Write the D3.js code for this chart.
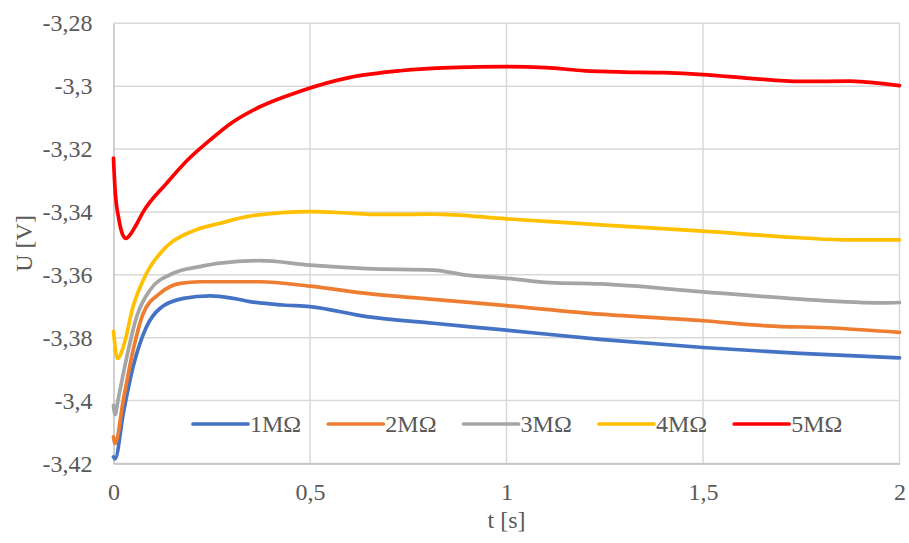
<!DOCTYPE html>
<html>
<head>
<meta charset="utf-8">
<script src="https://cdn.jsdelivr.net/npm/d3@7"></script>
<style>
  html, body { margin: 0; padding: 0; background: #fff; }
  svg { display: block; }
  svg text { font-family: "Liberation Serif", "Times New Roman", "DejaVu Serif", serif !important; }
</style>
</head>
<body>
<svg id="chart" width="909" height="543"></svg>
<script>
// ---- data ----
const seriesNames = ["1MΩ", "2MΩ", "3MΩ", "4MΩ", "5MΩ"];
const seriesColors = ["#4472C4", "#ED7D31", "#A5A5A5", "#FFC000", "#FF0000"];

const s1M = [[0,-3.4179],[0.004,-3.4185],[0.025,-3.404],[0.05,-3.3892],[0.084,-3.3765],[0.118,-3.3707],[0.178,-3.3675],[0.246,-3.3667],[0.305,-3.3675],[0.347,-3.3685],[0.432,-3.3696],[0.5,-3.3701],[0.644,-3.3733],[0.814,-3.3754],[1.0,-3.3776],[1.238,-3.3805],[1.5,-3.3831],[1.747,-3.385],[2.0,-3.3864]];
const s2M = [[0,-3.4115],[0.004,-3.4136],[0.025,-3.3998],[0.05,-3.3839],[0.076,-3.3722],[0.118,-3.3659],[0.17,-3.3627],[0.22,-3.3622],[0.373,-3.3622],[0.5,-3.3636],[0.644,-3.3659],[0.814,-3.3678],[1.0,-3.3698],[1.238,-3.3725],[1.5,-3.3746],[1.662,-3.3762],[1.831,-3.3769],[2.0,-3.3783]];
const s3M = [[0,-3.4015],[0.004,-3.4045],[0.012,-3.3995],[0.034,-3.386],[0.059,-3.3733],[0.093,-3.3648],[0.152,-3.3595],[0.22,-3.3574],[0.271,-3.3563],[0.373,-3.3555],[0.5,-3.3569],[0.644,-3.358],[0.814,-3.3585],[0.899,-3.3601],[1.0,-3.3611],[1.111,-3.3625],[1.238,-3.3629],[1.5,-3.3654],[1.747,-3.3677],[1.958,-3.3689],[2.0,-3.3688]];
const s4M = [[0,-3.378],[0.01,-3.3866],[0.025,-3.3829],[0.05,-3.370],[0.084,-3.3595],[0.135,-3.351],[0.203,-3.346],[0.271,-3.3436],[0.347,-3.3413],[0.5,-3.3399],[0.559,-3.3401],[0.686,-3.3408],[0.814,-3.3407],[1.0,-3.3422],[1.11,-3.3431],[1.238,-3.3441],[1.5,-3.3461],[1.747,-3.3482],[1.874,-3.3489],[2.0,-3.3489]];
const s5M = [[0,-3.3229],[0.004,-3.333],[0.014,-3.3425],[0.024,-3.3474],[0.032,-3.3484],[0.042,-3.3473],[0.055,-3.3447],[0.076,-3.3399],[0.135,-3.3309],[0.186,-3.3238],[0.246,-3.3171],[0.3,-3.3117],[0.37,-3.3067],[0.475,-3.3016],[0.602,-3.2972],[0.729,-3.2951],[0.856,-3.2941],[1.0,-3.2938],[1.1,-3.2941],[1.2,-3.2951],[1.3,-3.2955],[1.4,-3.2957],[1.5,-3.2963],[1.62,-3.2975],[1.747,-3.2985],[1.874,-3.2984],[1.917,-3.2987],[2.0,-3.2998]];

const xTicks = [0, 0.5, 1, 1.5, 2];
const yTicks = [-3.42, -3.40, -3.38, -3.36, -3.34, -3.32, -3.30, -3.28];
const xTitle = "t [s]";
const yTitle = "U [V]";

(function () {
  // ---- layout ----
  const svg = d3.select("#chart");
  const pL = 113.5, pR = 899.5, pT = 23.3, pB = 463.5;
  const x = d3.scaleLinear().domain([0, 2]).range([pL, pR]);
  const y = d3.scaleLinear().domain([-3.42, -3.28]).range([pB, pT]);
  const fmt = v => String(+v.toFixed(2)).replace(".", ",");
  const font = "Liberation Serif";
  const txtColor = "#595959";
  const fs = 24;
  const lw = 3.7;

  // gridlines
  const grid = svg.append("g");
  grid.selectAll("line.h").data(yTicks).join("line").attr("class", "h")
    .attr("x1", pL).attr("x2", pR)
    .attr("y1", d => y(d)).attr("y2", d => y(d))
    .attr("stroke", "#d9d9d9").attr("stroke-width", 1.5);
  grid.selectAll("line.v").data(xTicks.filter(d => d > 0)).join("line").attr("class", "v")
    .attr("y1", pT).attr("y2", pB)
    .attr("x1", d => x(d)).attr("x2", d => x(d))
    .attr("stroke", "#d9d9d9").attr("stroke-width", 1.5);

  // axes
  const yAxis = d3.axisLeft(y).tickValues(yTicks).tickFormat(fmt).tickSize(0).tickPadding(21);
  const gy = svg.append("g").attr("transform", `translate(${pL},0)`).call(yAxis);
  gy.attr("font-family", font);
  gy.select(".domain").attr("stroke", "#bfbfbf").attr("stroke-width", 1.5);
  gy.selectAll("text").attr("font-size", fs).attr("fill", txtColor);

  const xAxis = d3.axisBottom(x).tickValues(xTicks).tickFormat(fmt).tickSize(0).tickPadding(19);
  const gx = svg.append("g").attr("transform", `translate(0,${pB})`).call(xAxis);
  gx.attr("font-family", font);
  gx.select(".domain").attr("stroke", "#bfbfbf").attr("stroke-width", 1.5);
  gx.selectAll("text").attr("font-size", fs).attr("fill", txtColor);

  // axis titles
  svg.append("text").attr("x", (pL + pR) / 2).attr("y", 528)
    .attr("text-anchor", "middle").attr("font-size", fs)
    .attr("fill", txtColor).text(xTitle);
  svg.append("text").attr("transform", `translate(32,${(pT + pB) / 2}) rotate(-90)`)
    .attr("text-anchor", "middle").attr("font-size", fs)
    .attr("fill", txtColor).text(yTitle);

  // lines
  const allSeries = [s1M, s2M, s3M, s4M, s5M];
  const line = d3.line().x(d => x(d[0])).y(d => y(d[1])).curve(d3.curveMonotoneX);
  svg.append("g").selectAll("path").data(allSeries).join("path")
    .attr("d", line)
    .attr("fill", "none")
    .attr("stroke", (d, i) => seriesColors[i])
    .attr("stroke-width", lw)
    .attr("stroke-linejoin", "round")
    .attr("stroke-linecap", "round");

  // legend
  const legend = svg.append("g").attr("transform", "translate(193,424)");
  const items = legend.selectAll("g").data(seriesNames).join("g")
    .attr("transform", (d, i) => `translate(${i * 135.3},0)`);
  items.append("line").attr("x1", 0).attr("x2", 55).attr("y1", 0).attr("y2", 0)
    .attr("stroke", (d, i) => seriesColors[i]).attr("stroke-width", lw)
    .attr("stroke-linecap", "round");
  items.append("text").attr("x", 57).attr("y", 0).attr("dy", "0.35em")
    .attr("font-size", fs).attr("fill", txtColor)
    .text(d => d);
})();
</script>
</body>
</html>
